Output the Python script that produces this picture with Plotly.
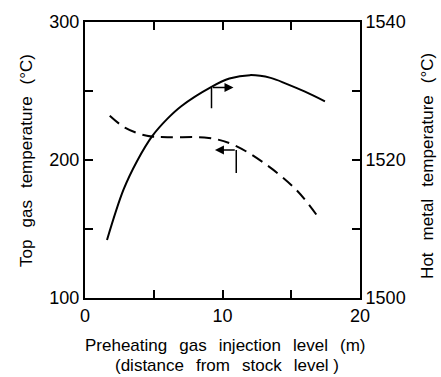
import plotly.graph_objects as go

# Top gas temperature (left axis, dashed)
gas_level = [1.8, 2.9, 4.5, 6.0, 9.0, 10.8, 13.2, 15.4, 17.0]
top_gas_temp = [232, 223.5, 217.5, 216.5, 216, 211, 196.5, 178, 158]

# Hot metal temperature (right axis, solid)
metal_level = [1.6, 2.8, 3.8, 4.9, 6.0, 7.0, 9.2, 10.5, 12.0, 13.5, 14.7, 16.0, 17.45]
hot_metal_temp = [1508.4, 1515.7, 1519.9, 1523.5, 1526.0, 1527.8, 1530.6, 1531.8,
                  1532.3, 1531.9, 1531.0, 1529.9, 1528.5]

x_ticks = [0, 5, 10, 15, 20]
x_labels = ["0", "", "10", "", "20"]
y_ticks = [100, 150, 200, 250, 300]
y_labels = ["100", "", "200", "", "300"]
y2_ticks = [1500, 1510, 1520, 1530, 1540]
y2_labels = ["1500", "", "1520", "", "1540"]

FONT = "Liberation Sans, Arial, sans-serif"
SP = "\u2800"  # blank glyph used as a wide word gap


def spaced(*words):
    return SP.join(words)


fig = go.Figure()
fig.add_trace(go.Scatter(
    x=gas_level, y=top_gas_temp, mode="lines",
    line=dict(color="black", width=2, dash="12px,7px", shape="spline", smoothing=1.0),
    yaxis="y", showlegend=False))
fig.add_trace(go.Scatter(
    x=metal_level, y=hot_metal_temp, mode="lines",
    line=dict(color="black", width=2, shape="spline", smoothing=1.0),
    yaxis="y2", showlegend=False))

# pointer markers: vertical stem plus arrow toward the relevant axis
fig.add_shape(type="line", x0=9.2, x1=9.2, y0=1530.6, y1=1527.5,
              xref="x", yref="y2", line=dict(color="black", width=1.5))
fig.add_annotation(x=10.8, y=1530.5, ax=9.2, ay=1530.5, xref="x", yref="y2",
                   axref="x", ayref="y2", text="", showarrow=True,
                   arrowhead=2, arrowsize=1.2, arrowwidth=1.5, arrowcolor="black")
fig.add_shape(type="line", x0=11.0, x1=11.0, y0=207.2, y1=190.6,
              xref="x", yref="y", line=dict(color="black", width=1.5))
fig.add_annotation(x=9.45, y=207.2, ax=11.0, ay=207.2, xref="x", yref="y",
                   axref="x", ayref="y", text="", showarrow=True,
                   arrowhead=2, arrowsize=1.2, arrowwidth=1.5, arrowcolor="black")

axis_common = dict(ticks="inside", ticklen=8, tickwidth=1.5, tickcolor="black",
                   showline=True, linecolor="black", linewidth=2,
                   showgrid=False, zeroline=False,
                   tickfont=dict(family=FONT, size=18, color="black"))

fig.update_layout(
    width=441, height=377,
    margin=dict(l=85, r=81, t=22, b=79),
    paper_bgcolor="white", plot_bgcolor="white",
    xaxis=dict(range=[0, 20], tickvals=x_ticks, ticktext=x_labels,
               mirror="ticks", **axis_common),
    yaxis=dict(range=[100, 300], tickvals=y_ticks, ticktext=y_labels,
               **axis_common),
    yaxis2=dict(range=[1500, 1540], tickvals=y2_ticks, ticktext=y2_labels,
                overlaying="y", side="right", **axis_common),
)

title_font = dict(family=FONT, size=17, color="black")
fig.add_annotation(text=spaced("Preheating", "gas", "injection", "level", "(m)"),
                   xref="paper", yref="paper", x=0.51, y=-0.173,
                   xanchor="center", yanchor="middle",
                   showarrow=False, font=title_font)
fig.add_annotation(text=spaced("(distance", "from", "stock", "level )"),
                   xref="paper", yref="paper", x=0.515, y=-0.245,
                   xanchor="center", yanchor="middle",
                   showarrow=False, font=title_font)
fig.add_annotation(text=spaced("Top", "gas", "temperature", "(°C)"), textangle=-90,
                   xref="paper", yref="paper", x=-0.215, y=0.5,
                   xanchor="center", yanchor="middle",
                   showarrow=False, font=title_font)
fig.add_annotation(text=spaced("Hot", "metal", "temperature", "(°C)"), textangle=-90,
                   xref="paper", yref="paper", x=1.245, y=0.48,
                   xanchor="center", yanchor="middle",
                   showarrow=False, font=title_font)

fig.write_html("out.html")
